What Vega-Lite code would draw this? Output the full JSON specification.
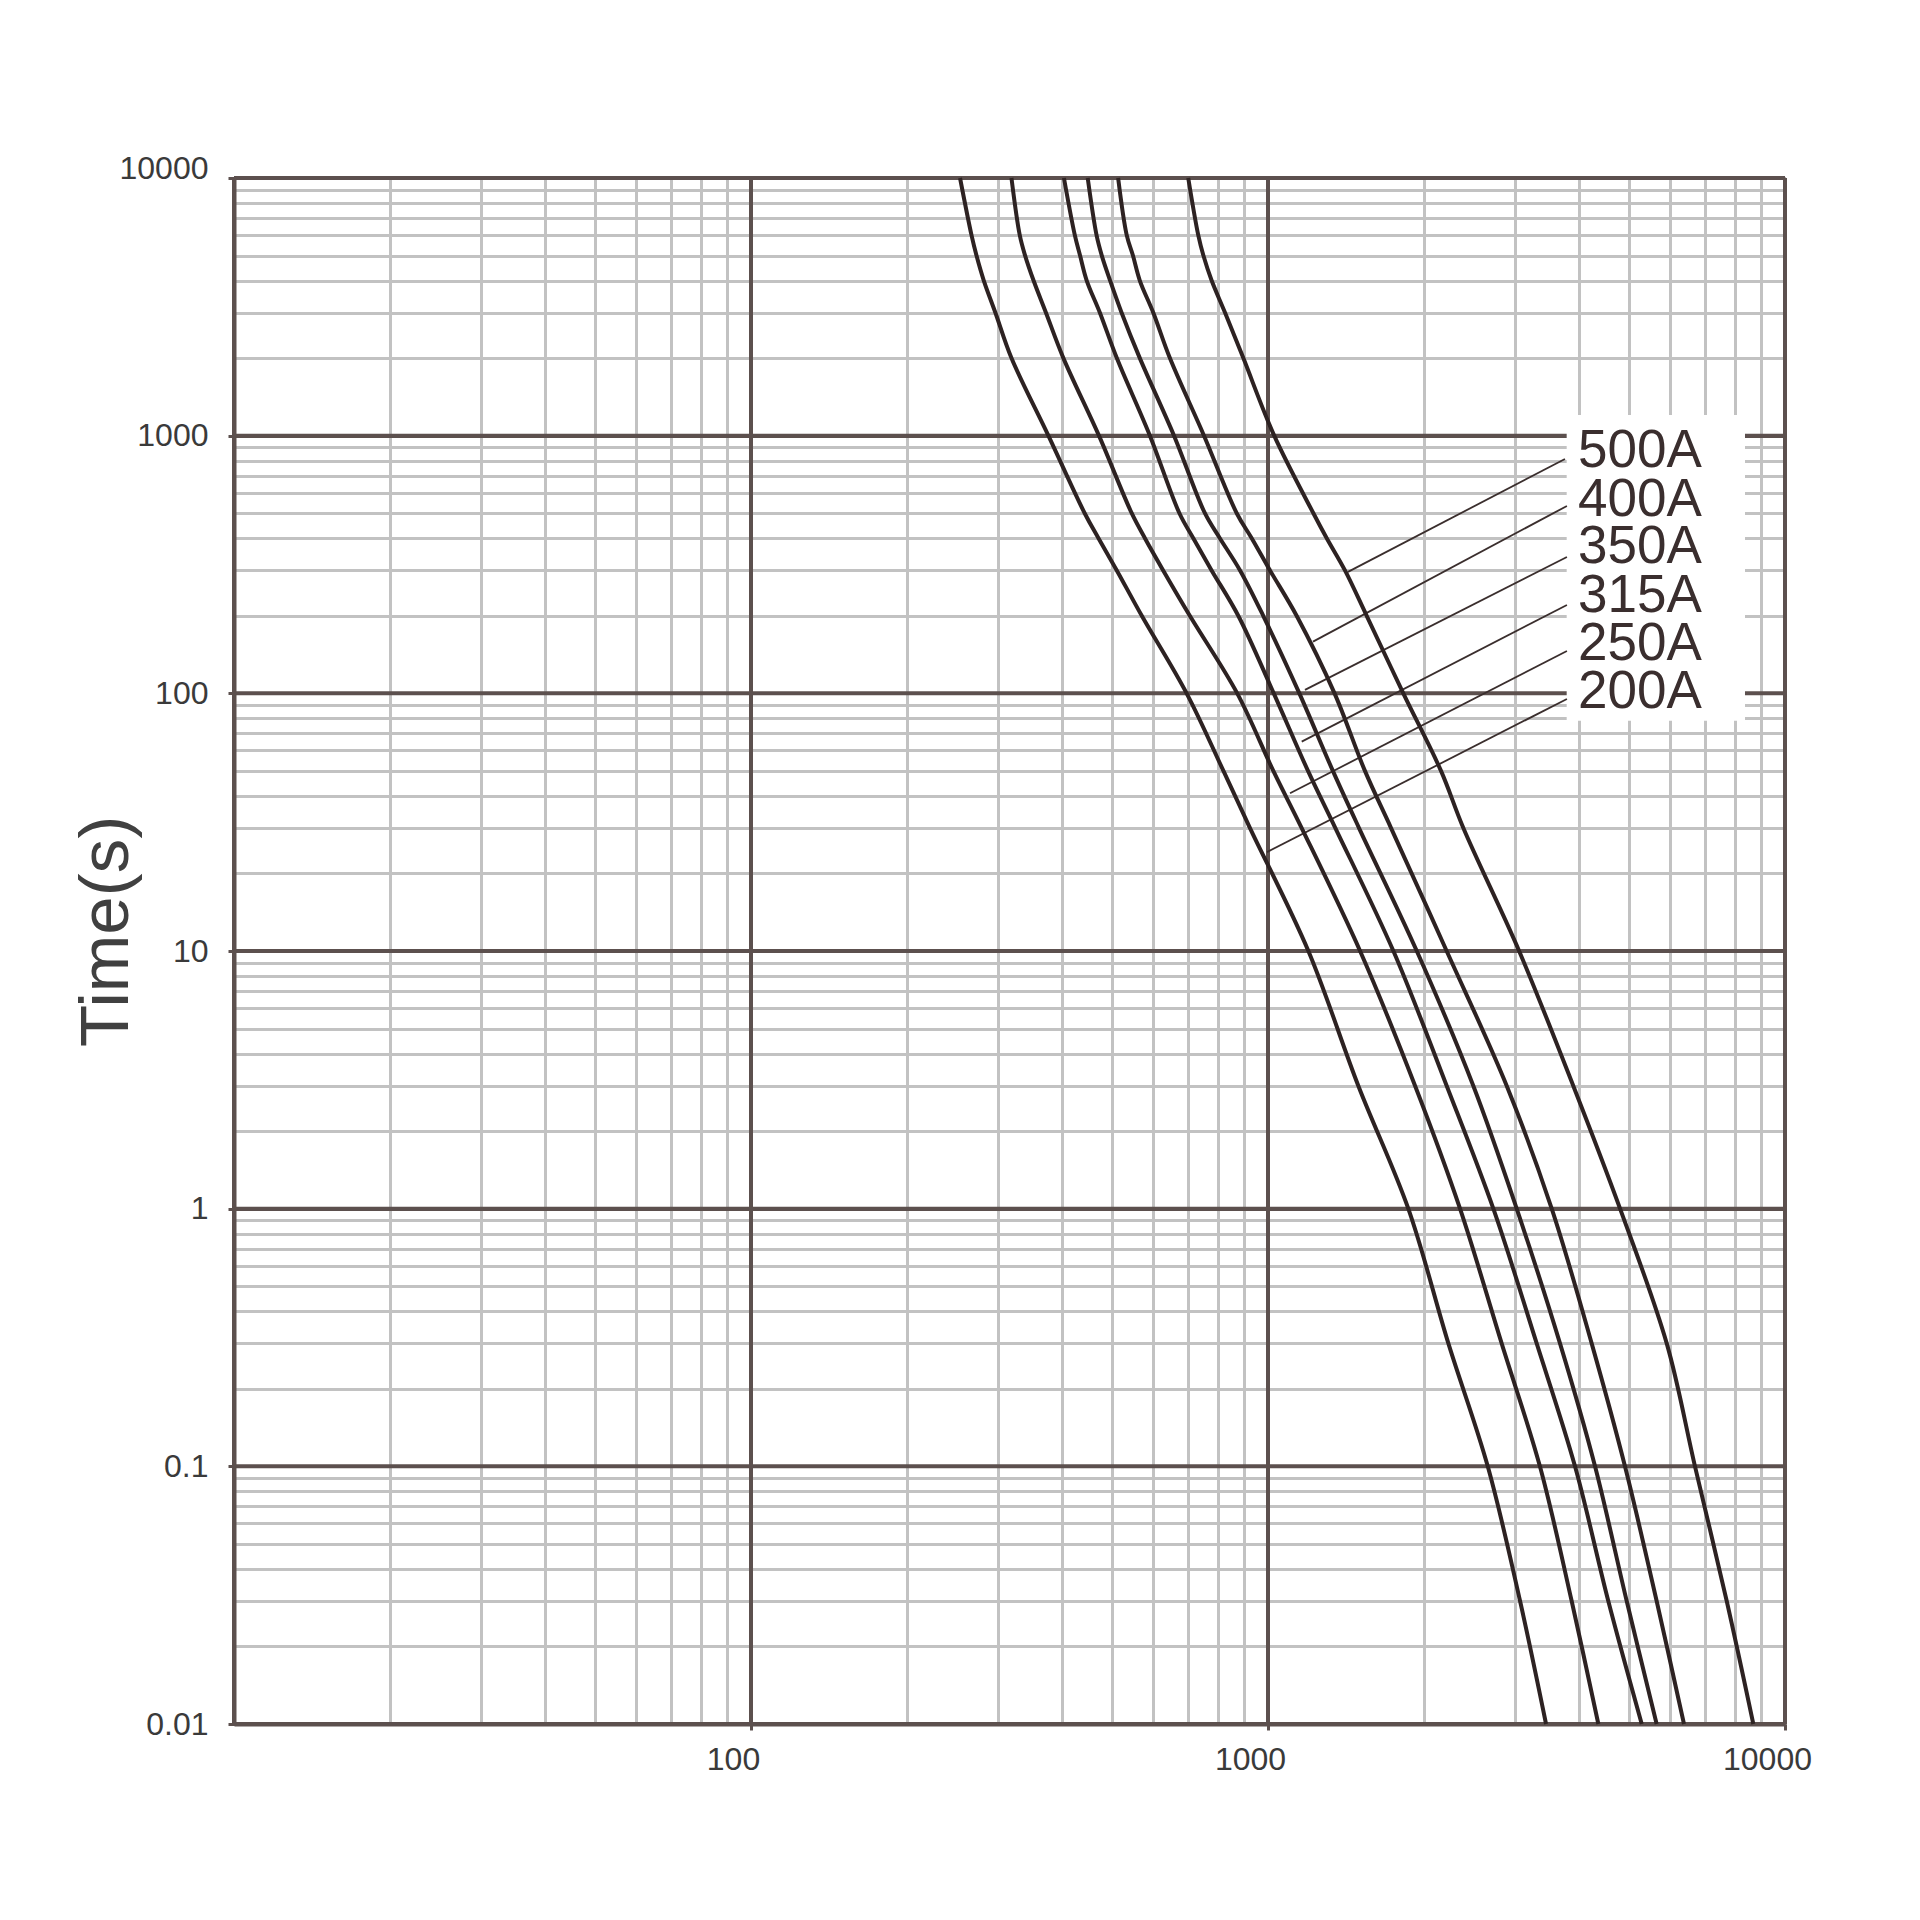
{
  "$schema": "https://vega.github.io/schema/vega-lite/v6.json",
  "width": 1551,
  "height": 1546,
  "autosize": {"type": "none"},
  "padding": {"left": 234, "top": 178, "right": 135, "bottom": 196},
  "background": "white",
  "config": {"view": {"stroke": null}},
  "datasets": {
    "curves": [
      {"fuse": "200A", "cur": 253.7, "t": 10000}, {"fuse": "200A", "cur": 267, "t": 6000}, {"fuse": "200A", "cur": 273, "t": 5000}, {"fuse": "200A", "cur": 282, "t": 4000}, {"fuse": "200A", "cur": 297, "t": 3000}, {"fuse": "200A", "cur": 319, "t": 2000}, {"fuse": "200A", "cur": 376, "t": 1000}, {"fuse": "200A", "cur": 442, "t": 500}, {"fuse": "200A", "cur": 470, "t": 400}, {"fuse": "200A", "cur": 510, "t": 300}, {"fuse": "200A", "cur": 570, "t": 200}, {"fuse": "200A", "cur": 696, "t": 100}, {"fuse": "200A", "cur": 820, "t": 50}, {"fuse": "200A", "cur": 923, "t": 30}, {"fuse": "200A", "cur": 1197, "t": 10}, {"fuse": "200A", "cur": 1495, "t": 3}, {"fuse": "200A", "cur": 1868, "t": 1}, {"fuse": "200A", "cur": 2233, "t": 0.3}, {"fuse": "200A", "cur": 2661, "t": 0.1}, {"fuse": "200A", "cur": 3073, "t": 0.03}, {"fuse": "200A", "cur": 3450, "t": 0.01},
      {"fuse": "250A", "cur": 319, "t": 10000}, {"fuse": "250A", "cur": 331, "t": 6000}, {"fuse": "250A", "cur": 339, "t": 5000}, {"fuse": "250A", "cur": 352, "t": 4000}, {"fuse": "250A", "cur": 372, "t": 3000}, {"fuse": "250A", "cur": 402, "t": 2000}, {"fuse": "250A", "cur": 471, "t": 1000}, {"fuse": "250A", "cur": 545, "t": 500}, {"fuse": "250A", "cur": 578, "t": 400}, {"fuse": "250A", "cur": 627, "t": 300}, {"fuse": "250A", "cur": 706, "t": 200}, {"fuse": "250A", "cur": 872, "t": 100}, {"fuse": "250A", "cur": 1024, "t": 50}, {"fuse": "250A", "cur": 1162, "t": 30}, {"fuse": "250A", "cur": 1507, "t": 10}, {"fuse": "250A", "cur": 1925, "t": 3}, {"fuse": "250A", "cur": 2352, "t": 1}, {"fuse": "250A", "cur": 2831, "t": 0.3}, {"fuse": "250A", "cur": 3357, "t": 0.1}, {"fuse": "250A", "cur": 3867, "t": 0.03}, {"fuse": "250A", "cur": 4355, "t": 0.01},
      {"fuse": "315A", "cur": 403, "t": 10000}, {"fuse": "315A", "cur": 423, "t": 6000}, {"fuse": "315A", "cur": 433, "t": 5000}, {"fuse": "315A", "cur": 446, "t": 4000}, {"fuse": "315A", "cur": 473, "t": 3000}, {"fuse": "315A", "cur": 510, "t": 2000}, {"fuse": "315A", "cur": 591, "t": 1000}, {"fuse": "315A", "cur": 674, "t": 500}, {"fuse": "315A", "cur": 717, "t": 400}, {"fuse": "315A", "cur": 778, "t": 300}, {"fuse": "315A", "cur": 876, "t": 200}, {"fuse": "315A", "cur": 1026, "t": 100}, {"fuse": "315A", "cur": 1195, "t": 50}, {"fuse": "315A", "cur": 1350, "t": 30}, {"fuse": "315A", "cur": 1748, "t": 10}, {"fuse": "315A", "cur": 2216, "t": 3}, {"fuse": "315A", "cur": 2728, "t": 1}, {"fuse": "315A", "cur": 3309, "t": 0.3}, {"fuse": "315A", "cur": 3925, "t": 0.1}, {"fuse": "315A", "cur": 4552, "t": 0.03}, {"fuse": "315A", "cur": 5283, "t": 0.01},
      {"fuse": "350A", "cur": 448, "t": 10000}, {"fuse": "350A", "cur": 466, "t": 6000}, {"fuse": "350A", "cur": 477, "t": 5000}, {"fuse": "350A", "cur": 495, "t": 4000}, {"fuse": "350A", "cur": 521, "t": 3000}, {"fuse": "350A", "cur": 565, "t": 2000}, {"fuse": "350A", "cur": 658, "t": 1000}, {"fuse": "350A", "cur": 755, "t": 500}, {"fuse": "350A", "cur": 807, "t": 400}, {"fuse": "350A", "cur": 883, "t": 300}, {"fuse": "350A", "cur": 979, "t": 200}, {"fuse": "350A", "cur": 1150, "t": 100}, {"fuse": "350A", "cur": 1335, "t": 50}, {"fuse": "350A", "cur": 1500, "t": 30}, {"fuse": "350A", "cur": 1940, "t": 10}, {"fuse": "350A", "cur": 2495, "t": 3}, {"fuse": "350A", "cur": 3027, "t": 1}, {"fuse": "350A", "cur": 3671, "t": 0.3}, {"fuse": "350A", "cur": 4291, "t": 0.1}, {"fuse": "350A", "cur": 4941, "t": 0.03}, {"fuse": "350A", "cur": 5646, "t": 0.01},
      {"fuse": "400A", "cur": 513, "t": 10000}, {"fuse": "400A", "cur": 533, "t": 6000}, {"fuse": "400A", "cur": 548, "t": 5000}, {"fuse": "400A", "cur": 565, "t": 4000}, {"fuse": "400A", "cur": 600, "t": 3000}, {"fuse": "400A", "cur": 646, "t": 2000}, {"fuse": "400A", "cur": 752, "t": 1000}, {"fuse": "400A", "cur": 870, "t": 500}, {"fuse": "400A", "cur": 930, "t": 400}, {"fuse": "400A", "cur": 1009, "t": 300}, {"fuse": "400A", "cur": 1136, "t": 200}, {"fuse": "400A", "cur": 1345, "t": 100}, {"fuse": "400A", "cur": 1540, "t": 50}, {"fuse": "400A", "cur": 1730, "t": 30}, {"fuse": "400A", "cur": 2216, "t": 10}, {"fuse": "400A", "cur": 2895, "t": 3}, {"fuse": "400A", "cur": 3538, "t": 1}, {"fuse": "400A", "cur": 4227, "t": 0.3}, {"fuse": "400A", "cur": 4903, "t": 0.1}, {"fuse": "400A", "cur": 5646, "t": 0.03}, {"fuse": "400A", "cur": 6377, "t": 0.01},
      {"fuse": "500A", "cur": 701, "t": 10000}, {"fuse": "500A", "cur": 733, "t": 6000}, {"fuse": "500A", "cur": 750, "t": 5000}, {"fuse": "500A", "cur": 778, "t": 4000}, {"fuse": "500A", "cur": 826, "t": 3000}, {"fuse": "500A", "cur": 896, "t": 2000}, {"fuse": "500A", "cur": 1028, "t": 1000}, {"fuse": "500A", "cur": 1224, "t": 500}, {"fuse": "500A", "cur": 1299, "t": 400}, {"fuse": "500A", "cur": 1409, "t": 300}, {"fuse": "500A", "cur": 1552, "t": 200}, {"fuse": "500A", "cur": 1827, "t": 100}, {"fuse": "500A", "cur": 2161, "t": 50}, {"fuse": "500A", "cur": 2387, "t": 30}, {"fuse": "500A", "cur": 3060, "t": 10}, {"fuse": "500A", "cur": 3894, "t": 3}, {"fuse": "500A", "cur": 4797, "t": 1}, {"fuse": "500A", "cur": 5905, "t": 0.3}, {"fuse": "500A", "cur": 6697, "t": 0.1}, {"fuse": "500A", "cur": 7714, "t": 0.03}, {"fuse": "500A", "cur": 8684, "t": 0.01}
    ],
    "leaders": [
      {"fuse": "500A", "xa": 3753, "ya": 812, "xb": 1428, "yb": 296},
      {"fuse": "400A", "xa": 3786, "ya": 533.6, "xb": 1222, "yb": 158.7},
      {"fuse": "350A", "xa": 3786, "ya": 338.2, "xb": 1179, "yb": 103.1},
      {"fuse": "315A", "xa": 3786, "ya": 220.3, "xb": 1162, "yb": 64.95},
      {"fuse": "250A", "xa": 3786, "ya": 146, "xb": 1103, "yb": 40.96},
      {"fuse": "200A", "xa": 3786, "ya": 95.1, "xb": 995.5, "yb": 24.2}
    ],
    "labels": [
      {"fuse": "500A", "lx": 3978, "ly": 756},
      {"fuse": "400A", "lx": 3978, "ly": 488},
      {"fuse": "350A", "lx": 3978, "ly": 320.6},
      {"fuse": "315A", "lx": 3978, "ly": 207},
      {"fuse": "250A", "lx": 3978, "ly": 134.8},
      {"fuse": "200A", "lx": 3978, "ly": 87.8}
    ],
    "box": [{"bx1": 3782, "bx2": 8368, "by1": 1203, "by2": 78.2}],
    "majX": [{"v": 10}, {"v": 100}, {"v": 1000}, {"v": 10000}],
    "majY": [{"v": 0.01}, {"v": 0.1}, {"v": 1}, {"v": 10}, {"v": 100}, {"v": 1000}, {"v": 10000}]
  },
  "layer": [
    {
      "data": {"name": "majX"},
      "mark": {"type": "rule", "color": "#5c504e", "strokeWidth": 4},
      "encoding": {
        "x": {"field": "v", "type": "quantitative", "scale": {"type": "log", "domain": [10, 10000], "nice": false}}
      }
    },
    {
      "data": {"name": "majY"},
      "mark": {"type": "rule", "color": "#5c504e", "strokeWidth": 4},
      "encoding": {
        "y": {"field": "v", "type": "quantitative", "scale": {"type": "log", "domain": [0.01, 10000], "nice": false}}
      }
    },
    {
      "data": {"name": "box"},
      "mark": {"type": "rect", "fill": "white", "stroke": null},
      "encoding": {
        "x": {"field": "bx1", "type": "quantitative", "scale": {"type": "log", "domain": [10, 10000], "nice": false}},
        "x2": {"field": "bx2"},
        "y": {"field": "by1", "type": "quantitative", "scale": {"type": "log", "domain": [0.01, 10000], "nice": false}},
        "y2": {"field": "by2"}
      }
    },
    {
      "data": {"name": "leaders"},
      "mark": {"type": "rule", "color": "#3a2e2d", "strokeWidth": 1.8},
      "encoding": {
        "x": {"field": "xa", "type": "quantitative", "scale": {"type": "log", "domain": [10, 10000], "nice": false}},
        "x2": {"field": "xb"},
        "y": {"field": "ya", "type": "quantitative", "scale": {"type": "log", "domain": [0.01, 10000], "nice": false}},
        "y2": {"field": "yb"}
      }
    },
    {
      "data": {"name": "curves"},
      "mark": {"type": "line", "color": "#2d2222", "strokeWidth": 4, "interpolate": "catmull-rom"},
      "encoding": {
        "x": {
          "field": "cur", "type": "quantitative",
          "scale": {"type": "log", "domain": [10, 10000], "nice": false},
          "axis": {
            "title": null,
            "values": [20, 30, 40, 50, 60, 70, 80, 90, 200, 300, 400, 500, 600, 700, 800, 900, 2000, 3000, 4000, 5000, 6000, 7000, 8000, 9000, 10, 100, 1000, 10000],
            "grid": true,
            "gridColor": {"condition": {"test": "indexof([10,100,1000,10000], datum.value) >= 0", "value": "#5c504e"}, "value": "#c2c2c2"},
            "gridWidth": 3,
            "labelExpr": "indexof([100,1000,10000], datum.value) >= 0 ? '' + datum.value : ''",
            "tickColor": {"condition": {"test": "indexof([100,1000,10000], datum.value) >= 0", "value": "#5c504e"}, "value": "transparent"},
            "tickSize": 6, "tickWidth": 3,
            "domainColor": "#5c504e", "domainWidth": 4,
            "labelFont": "Liberation Sans", "labelFontSize": 32, "labelColor": "#3a3a3a",
            "labelPadding": 14, "labelOffset": -18, "labelOverlap": false, "labelFlush": false, "labelBound": false
          }
        },
        "y": {
          "field": "t", "type": "quantitative",
          "scale": {"type": "log", "domain": [0.01, 10000], "nice": false},
          "axis": {
            "title": "Time(s)",
            "values": [0.02, 0.03, 0.04, 0.05, 0.06, 0.07, 0.08, 0.09, 0.2, 0.3, 0.4, 0.5, 0.6, 0.7, 0.8, 0.9, 2, 3, 4, 5, 6, 7, 8, 9, 20, 30, 40, 50, 60, 70, 80, 90, 200, 300, 400, 500, 600, 700, 800, 900, 2000, 3000, 4000, 5000, 6000, 7000, 8000, 9000, 0.01, 0.1, 1, 10, 100, 1000, 10000],
            "grid": true,
            "gridColor": {"condition": {"test": "indexof([0.01,0.1,1,10,100,1000,10000], datum.value) >= 0", "value": "#5c504e"}, "value": "#c2c2c2"},
            "gridWidth": 3,
            "labelExpr": "indexof([0.01,0.1,1,10,100,1000,10000], datum.value) >= 0 ? '' + datum.value : ''",
            "labelBaseline": {"condition": {"test": "datum.value == 10000", "value": "alphabetic"}, "value": "middle"},
            "tickColor": {"condition": {"test": "indexof([0.01,0.1,1,10,100,1000,10000], datum.value) >= 0", "value": "#5c504e"}, "value": "transparent"},
            "tickSize": 6, "tickWidth": 3,
            "domainColor": "#5c504e", "domainWidth": 4,
            "labelFont": "Liberation Sans", "labelFontSize": 32, "labelColor": "#3a3a3a",
            "labelPadding": 20, "labelOverlap": false, "labelFlush": false, "labelBound": false,
            "titleFont": "Liberation Sans", "titleFontSize": 69, "titleFontWeight": "normal", "titleColor": "#404040",
            "titleAngle": 270, "titleAlign": "center", "titleBaseline": "alphabetic",
            "titleX": -107, "titleY": 753
          }
        },
        "detail": {"field": "fuse"}
      }
    },
    {
      "data": {"name": "labels"},
      "mark": {"type": "text", "font": "Liberation Sans", "fontSize": 53, "align": "left", "baseline": "alphabetic", "color": "#3a2e2e"},
      "encoding": {
        "x": {"field": "lx", "type": "quantitative", "scale": {"type": "log", "domain": [10, 10000], "nice": false}},
        "y": {"field": "ly", "type": "quantitative", "scale": {"type": "log", "domain": [0.01, 10000], "nice": false}},
        "text": {"field": "fuse"}
      }
    }
  ]
}
